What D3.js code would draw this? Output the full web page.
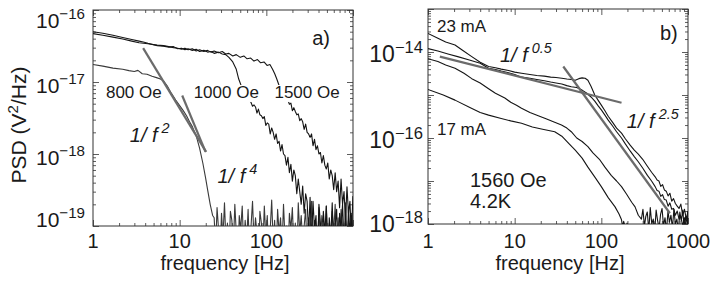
<!DOCTYPE html>
<html>
<head>
<meta charset="utf-8">
<script src="https://cdn.jsdelivr.net/npm/d3@7"></script>
<style>
  body { margin: 0; background: #fff; }
  svg { display: block; }
  text { font-family: "Liberation Sans", Arial, sans-serif; fill: #1a1a1a; }
</style>
</head>
<body>
<div id="chart"></div>
<script>
// ---------- panel a) : PSD vs field ----------
const curve800Head = [[1,1.75e-17],[1.3,1.66e-17],[1.7,1.56e-17],[2.2,1.5e-17],[2.6,1.44e-17],[3,1.4e-17],[3.3,1.45e-17],[3.7,1.3e-17],[4.2,1.28e-17],[4.8,1.2e-17],[5.4,1.15e-17],[6,1.1e-17],[6.5,1.04e-17],[7.2,8.8e-18],[8,7e-18],[9,5.6e-18],[10,4.7e-18],[11,4e-18],[12,3.4e-18],[13,2.8e-18],[14,2.4e-18],[15.5,1.8e-18],[17,1.2e-18],[18.5,7.5e-19],[20,4.5e-19],[21,3.2e-19],[22.5,2e-19],[24,1.4e-19]];
// noise floor of the 800 Oe trace (frequency bins, PSD in units of 1e-19)
const floorFreqA = [25,26,27,28.1,29.2,30.4,31.6,32.9,34.2,35.6,37,38.5,40,41.6,43.3,45,46.8,48.7,50.6,52.7,54.8,57,59.2,61.6,64.1,66.6,69.3,72.1,75,78,81,84.3,87.7,91.2,94.8,98.6,102.5,106.6,110.9,115.3,119.9,124.7,129.7,134.9,140.3,145.9,151.7,157.8,164.1,170.7,177.5,184.6,192,199.7,207.6,216,224.6,233.6,242.9,252.6,262.7,273.2,284.2,295.5,307.4,319.7,332.4,345.7,359.6,374,388.9,404.5,420.7,437.5,455,473.2,492.1,511.8,532.3,553.6,575.7,598.7,622.7,647.6,673.5,700.4,728.4,757.6,787.9,819.4,852.2,886.3,921.7,958.6,997];
const floor800 = [1.3,0.5,1.8,0.9,0.4,1.5,0.7,2.1,0.6,1.1, 0.4,1.6,1.2,0.5,2.0,0.8,0.3,1.4,0.9,1.9, 0.5,1.2,0.6,1.7,0.4,1.0,2.2,0.6,1.3,0.8, 0.3,1.6,1.1,0.5,1.9,0.7,1.4,0.4,0.9,2.3, 0.6,1.2,0.4,1.7,0.8,1.3,0.5,2.0,0.7,1.0, 0.4,1.5,0.9,1.8,0.5,1.1,0.3,2.1,0.8,1.4, 0.6,1.0,1.7,0.4,1.3,0.7,2.2,0.5,1.2,0.9, 0.4,1.8,0.6,1.4,1.0,0.3,1.9,0.7,1.1,0.5, 1.6,0.8,2.0,0.4,1.3,0.6,1.7,1.0,0.5,2.1, 0.7,1.2,0.4,1.5,0.9];

const curve1000 = [[1,4.7e-17],[1.3,4.45e-17],[1.7,4.2e-17],[2.2,3.95e-17],[2.8,3.7e-17],[3.4,3.5e-17],[4.3,3.4e-17],[5,3.3e-17],[5.5,3.2e-17],[6.5,3.15e-17],[7.5,3.05e-17],[8.5,3.1e-17],[9.5,2.9e-17],[10.5,2.95e-17],[11.5,2.8e-17],[12.5,2.9e-17],[14,2.75e-17],[15.5,2.85e-17],[17,2.65e-17],[19,2.75e-17],[21,2.6e-17],[23,2.65e-17],[25,2.5e-17],[28,2.6e-17],[31,2.45e-17],[34,2.4e-17],[37,2.2e-17],[41,1.9e-17],[45,1.5e-17],[48,1.1e-17],[52,8.5e-18],[57,6.8e-18],[62,5.8e-18],
  [66.6,5.2e-18],[69.3,4.6e-18],[72.1,4.8e-18],[75,4.5e-18],[78,3.7e-18],[81,4.2e-18],[84.3,3.5e-18],[87.7,3.4e-18],[91.2,3.1e-18],[94.8,3.3e-18],[98.6,2.5e-18],[102.5,2.7e-18],[106.6,2.6e-18],[110.9,1.9e-18],[115.3,2.3e-18],[119.9,2.0e-18],[124.7,1.6e-18],[129.7,1.9e-18],[134.9,1.4e-18],[140.3,1.5e-18],[145.9,1.1e-18],[151.7,1.35e-18],[157.8,1.0e-18],[164.1,9.5e-19],[170.7,7e-19],[177.5,9e-19],[184.6,5.5e-19],[192,7.2e-19],[199.7,4.2e-19],[207.6,6e-19],[216,5e-19],[224.6,2.8e-19],[233.6,4.5e-19],[242.9,3e-19],[252.6,2e-19],[262.7,3.6e-19],[273.2,1.5e-19],[284.2,2.8e-19],[295.5,2.2e-19],[307.4,0.8e-19],[319.7,2.5e-19],
  [332.4,0.6e-19],[345.7,2.2e-19],[359.6,0.9e-19],[374,1.4e-19],[388.9,0.4e-19],[404.5,2.0e-19],[420.7,1.1e-19],[437.5,0.5e-19],[455,1.6e-19],[473.2,0.8e-19],[492.1,1.9e-19],[511.8,0.3e-19],[532.3,1.3e-19],[553.6,0.7e-19],[575.7,2.1e-19],[598.7,0.5e-19],[622.7,1.0e-19],[647.6,1.7e-19],[673.5,0.4e-19],[700.4,1.5e-19],[728.4,0.9e-19],[757.6,2.0e-19],[787.9,0.6e-19],[819.4,1.2e-19],[852.2,0.3e-19],[886.3,1.8e-19],[921.7,0.8e-19],[958.6,1.4e-19],[997,0.5e-19]];

const curve1500 = [[1,5.0e-17],[1.3,4.75e-17],[1.7,4.45e-17],[2.2,4.15e-17],[2.8,3.9e-17],[3.4,3.7e-17],[3.8,3.6e-17],[4.3,3.45e-17],[5,3.3e-17],[5.5,3.25e-17],[6.5,3.2e-17],[7.5,3.1e-17],[8.5,3.0e-17],[9.5,2.95e-17],[10.5,2.85e-17],[11.5,2.95e-17],[12.5,2.8e-17],[14,2.9e-17],[15.5,2.7e-17],[17,2.8e-17],[19,2.65e-17],[21,2.75e-17],[23,2.6e-17],[25,2.7e-17],[28,2.55e-17],[31,2.65e-17],[34,2.45e-17],[37,2.5e-17],[41,2.3e-17],[45,2.4e-17],[50,2.2e-17],[55,2.3e-17],[60,2.1e-17],[66,2.15e-17],[72,1.95e-17],[79,2.05e-17],[86,1.85e-17],[94,1.9e-17],[102,1.7e-17],[110,1.75e-17],[118,1.5e-17],[125,1.3e-17],[132,1.1e-17],[140,9e-18],[150,7.5e-18],[160,6.5e-18],[170,6e-18],
  [177.5,5.6e-18],[184.6,4.9e-18],[192,5.1e-18],[199.7,4.0e-18],[207.6,4.4e-18],[216,3.9e-18],[224.6,3.5e-18],[233.6,3.6e-18],[242.9,2.9e-18],[252.6,3.1e-18],[262.7,2.8e-18],[273.2,2.2e-18],[284.2,2.6e-18],[295.5,2.0e-18],[307.4,1.9e-18],[319.7,1.7e-18],[332.4,1.9e-18],[345.7,1.3e-18],[359.6,1.6e-18],[374,1.15e-18],[388.9,1.3e-18],[404.5,1.0e-18],[420.7,1.05e-18],[437.5,7.5e-19],[455,9.5e-19],[473.2,7e-19],[492.1,6.2e-19],[511.8,7.5e-19],[532.3,4.5e-19],[553.6,6e-19],[575.7,5e-19],[598.7,3.2e-19],[622.7,5.5e-19],[647.6,3e-19],[673.5,4.2e-19],[700.4,1.8e-19],[728.4,4.5e-19],[757.6,2e-19],[787.9,3e-19],[819.4,1.2e-19],[852.2,3.5e-19],[886.3,1.5e-19],[921.7,2.2e-19],[958.6,0.7e-19],[997,2.6e-19]];

const fitA2 = [[3.79,2.95e-17],[20.2,1.07e-18]];
const fitA4 = [[10.7,6.5e-18],[19.9,1.07e-18]];

// ---------- panel b) : PSD vs bias current ----------
const curve23mA = [[1,2.7e-14],[1.3,2.1e-14],[1.6,1.7e-14],[2.05,1.45e-14],[2.5,1.1e-14],[3.2,7.8e-15],[4,5.8e-15],[5,4.6e-15],[6,4.3e-15],[7,4.0e-15],[8.5,3.7e-15],[10,3.4e-15],[12,3.2e-15],[15,3.0e-15],[18,2.85e-15],[22,2.75e-15],[26,2.6e-15],[30,2.55e-15],[35,2.45e-15],[40,2.35e-15],[45,2.3e-15],[50,2.2e-15],[55,2.4e-15],[60,2.5e-15],[65,2.45e-15],[70,2.2e-15],[76,1.6e-15],[84,1.0e-15],[92,7.5e-16],[100,5.8e-16],[110,4.3e-16],[120,3.2e-16],[135,2.3e-16],[150,1.7e-16],[171,1.3e-16],[190,9.5e-17],[215,6.8e-17],[240,5.2e-17],[267,4.2e-17],[300,3.2e-17],[340,2.2e-17],[380,1.6e-17],
  [418,1.25e-17],[440,1.05e-17],[462,1.0e-17],[485,7.5e-18],[509,8.2e-18],[534,6.2e-18],[561,5.8e-18],[589,4.5e-18],[618,5.2e-18],[649,3.4e-18],[681,3.9e-18],[715,3.0e-18],[751,2.6e-18],[788,2.3e-18],[827,2.9e-18],[868,1.6e-18],[911,2.2e-18],[956,1.3e-18],[1000,2.0e-18]];

const curve21mA = [[1,1.2e-14],[1.3,1.05e-14],[1.7,9e-15],[2.2,7.8e-15],[3,6.5e-15],[4,5.5e-15],[5,4.2e-15],[6,3.9e-15],[7,3.6e-15],[8.5,3.3e-15],[10,3.0e-15],[12,2.6e-15],[15,2.45e-15],[18,2.3e-15],[22,2.15e-15],[26,2.0e-15],[30,1.9e-15],[35,1.8e-15],[40,1.65e-15],[45,1.55e-15],[52,1.5e-15],[60,1.3e-15],[68,1.1e-15],[76,9e-16],[84,7.2e-16],[92,5.6e-16],[100,4.5e-16],[110,3.4e-16],[120,2.6e-16],[135,1.9e-16],[150,1.4e-16],[171,1.0e-16],[190,7.2e-17],[215,5.0e-17],[240,3.7e-17],[267,2.8e-17],[300,2.0e-17],[340,1.35e-17],[380,1.0e-17],
  [418,7.4e-18],[440,6.0e-18],[462,5.8e-18],[485,4.4e-18],[509,4.8e-18],[534,3.7e-18],[561,3.6e-18],[589,2.6e-18],[618,3.1e-18],[649,2.2e-18],[681,2.3e-18],[715,1.6e-18],[751,2.0e-18],[788,1.3e-18],[827,1.5e-18],[868,0.9e-18],[911,1.4e-18],[956,0.8e-18],[1000,1.2e-18]];

const curve19mA = [[1,7e-15],[1.3,6e-15],[1.6,5e-15],[2.05,4.2e-15],[2.6,3.2e-15],[3.2,2.4e-15],[4,1.9e-15],[5,1.4e-15],[6,1.1e-15],[7.7,8.5e-16],[9,6.8e-16],[10.5,5.8e-16],[12,4.9e-16],[15,3.9e-16],[18.7,3.3e-16],[23,2.8e-16],[28,2.4e-16],[34.7,2.0e-16],[40,1.7e-16],[45,1.4e-16],[52,1.0e-16],[60,8.3e-17],[70,6.3e-17],[80,4.5e-17],[95,3.2e-17],[110,2.1e-17],[130,1.35e-17],[150,1.0e-17],[171,7.4e-18],[195,5.0e-18],[224,3.2e-18],[245,2.5e-18],[267,1.6e-18],
  [290,1.3e-18],[302,2.2e-18],[314,0.9e-18],[326,1.5e-18],[339,1.9e-18],[353,0.7e-18],[367,2.4e-18],[382,1.0e-18],[397,1.3e-18],[413,0.7e-18],[429,2.1e-18],[446,1.2e-18],[464,0.8e-18],[483,1.7e-18],[502,2.3e-18],[522,0.9e-18],[543,1.4e-18],[565,0.7e-18],[588,2.0e-18],[611,1.1e-18],[636,1.6e-18],[661,0.8e-18],[688,2.2e-18],[715,1.0e-18],[744,1.3e-18],[774,0.7e-18],[805,1.9e-18],[837,1.2e-18],[870,2.1e-18],[905,0.8e-18],[941,1.5e-18],[979,1.0e-18],[1000,2.0e-18]];

const curve17mA = [[1,1.35e-15],[1.5,1.0e-15],[2.05,7.6e-16],[3,5.2e-16],[4,3.9e-16],[5,3.4e-16],[7,2.85e-16],[9,2.5e-16],[12,2.2e-16],[16,1.8e-16],[21,1.6e-16],[29,1.4e-16],[35,1.1e-16],[42,7.5e-17],[50,5.2e-17],[60,3.4e-17],[70,2.1e-17],[85,1.2e-17],[100,7.4e-18],[120,4.1e-18],[144,2.5e-18],[160,1.7e-18],
  [171,1.25e-18],[176,0.85e-18],[181,1.15e-18],[186,0.95e-18],[192,0.6e-18],[198,1.05e-18],[204,0.7e-18],[210,0.9e-18],[216,0.5e-18],[222,0.85e-18],[229,0.75e-18],[236,0.45e-18],[243,0.7e-18],[250,0.4e-18],[260,0.6e-18],[275,0.3e-18],[290,0.5e-18],[310,0.3e-18]];

const fitB05 = [[1.37,7.8e-15],[171,6.6e-16]];
const fitB25 = [[36.4,4.6e-15],[618,1.78e-18]];

const xTickLabelsA = [1, 10, 100];
const xTickLabelsB = [1, 10, 100, 1000];
const yExpA = [-19, -18, -17, -16];
const yExpB = [-18, -16, -14];

// ---------- drawing ----------
const W = 712, H = 284;
const svg = d3.select("#chart").append("svg").attr("width", W).attr("height", H);

const curve800 = curve800Head.concat(floorFreqA.map((f, i) => [f, floor800[i] * 1e-19]));

function logTicks(lo, hi) {
  const major = [], minor = [];
  for (let e = Math.floor(Math.log10(lo)); e <= Math.ceil(Math.log10(hi)); e++) {
    const p = Math.pow(10, e);
    if (p >= lo * 0.999 && p <= hi * 1.001) major.push(p);
    for (let k = 2; k < 10; k++) {
      const v = k * p;
      if (v > lo && v < hi) minor.push(v);
    }
  }
  return { major, minor };
}

function drawPanel(cfg) {
  const x = d3.scaleLog().domain(cfg.xDomain).range([cfg.left, cfg.right]);
  const y = d3.scaleLog().domain(cfg.yDomain).range([cfg.bottom, cfg.top]);
  const g = svg.append("g");

  const clipId = "clip-" + cfg.name;
  svg.append("clipPath").attr("id", clipId).append("rect")
    .attr("x", cfg.left).attr("y", cfg.top)
    .attr("width", cfg.right - cfg.left).attr("height", cfg.bottom - cfg.top);

  // inward ticks on all four sides
  const xt = logTicks(...cfg.xDomain), yt = logTicks(...cfg.yDomain);
  const sides = [
    [d3.axisBottom, x, xt, `translate(0,${cfg.bottom})`],
    [d3.axisTop, x, xt, `translate(0,${cfg.top})`],
    [d3.axisLeft, y, yt, `translate(${cfg.left},0)`],
    [d3.axisRight, y, yt, `translate(${cfg.right},0)`]
  ];
  sides.forEach(([axis, sc, t, tr]) => {
    [[t.major, 6], [t.minor, 3]].forEach(([vals, len]) => {
      const a = g.append("g").attr("transform", tr)
        .call(axis(sc).tickValues(vals).tickSize(-len).tickFormat(""));
      a.select(".domain").remove();
      a.selectAll("line").attr("stroke", "#333").attr("stroke-width", 0.8);
    });
  });

  g.append("rect")
    .attr("x", cfg.left).attr("y", cfg.top)
    .attr("width", cfg.right - cfg.left).attr("height", cfg.bottom - cfg.top)
    .attr("fill", "none").attr("stroke", "#333").attr("stroke-width", 1);

  // x tick labels
  g.selectAll(".xl").data(cfg.xLabels).join("text")
    .attr("x", d => x(d)).attr("y", 248)
    .attr("text-anchor", "middle").attr("font-size", 20)
    .text(d => d);

  // y tick labels (10^n)
  cfg.yExp.forEach(e => {
    const base = Math.min(Math.max(y(Math.pow(10, e)) + cfg.yLabDy, cfg.yLabMin), cfg.yLabMax);
    const t = g.append("text")
      .attr("x", cfg.left - cfg.yLabGap).attr("y", base)
      .attr("text-anchor", "end").attr("font-size", cfg.yLabSize);
    t.append("tspan").text("10");
    t.append("tspan").attr("font-size", cfg.yLabSize * 0.72).attr("dy", -9)
      .text("\u2212" + Math.abs(e));
  });

  g.append("text")
    .attr("x", (cfg.left + cfg.right) / 2 + 2).attr("y", 270)
    .attr("text-anchor", "middle").attr("font-size", 20)
    .text("frequency [Hz]");

  const line = d3.line().x(d => x(d[0])).y(d => y(d[1]));
  const plot = g.append("g").attr("clip-path", `url(#${clipId})`);

  cfg.curves.forEach(c => {
    plot.append("path").datum(c.data)
      .attr("d", line).attr("fill", "none")
      .attr("stroke", c.color).attr("stroke-width", 1.1)
      .attr("stroke-linejoin", "round");
  });
  cfg.fits.forEach(f => {
    plot.append("path").datum(f)
      .attr("d", line).attr("fill", "none")
      .attr("stroke", "#6b6b6b").attr("stroke-width", 2.2);
  });

  // annotations (anchored in data coordinates)
  cfg.notes.forEach(n => {
    const t = g.append("text")
      .attr("x", x(n.f)).attr("y", y(n.v))
      .attr("font-size", n.size).attr("text-anchor", n.anchor || "start");
    if (n.italic) t.attr("font-style", "italic");
    t.append("tspan").text(n.text);
    if (n.sup) t.append("tspan").attr("font-size", n.size * 0.72).attr("dx", 4).attr("dy", -9).text(n.sup);
    if (n.knock) {
      const b = t.node().getBBox();
      g.insert("rect", () => t.node())
        .attr("x", b.x - 1).attr("y", b.y + 2)
        .attr("width", b.width + 2).attr("height", b.height - 2)
        .attr("fill", "#fff");
    }
  });
  return { x, y };
}

drawPanel({
  name: "a", left: 93, right: 353, top: 10, bottom: 226,
  xDomain: [1, 1000], yDomain: [1e-19, 1e-16],
  xLabels: xTickLabelsA, yExp: yExpA,
  yLabDy: 11, yLabMin: 28, yLabMax: 227, yLabGap: 8, yLabSize: 21,
  curves: [
    { data: curve800, color: "#3a3a3a" },
    { data: curve1000, color: "#151515" },
    { data: curve1500, color: "#151515" }
  ],
  fits: [fitA2, fitA4],
  notes: [
    { text: "a)", f: 338, v: 3.27e-17, size: 20 },
    { text: "800 Oe", f: 1.41, v: 6.0e-18, size: 17 },
    { text: "1000 Oe", f: 14.5, v: 6.0e-18, size: 17, knock: true },
    { text: "1500 Oe", f: 124, v: 6.0e-18, size: 17, knock: true },
    { text: "1/ f", sup: "2", f: 2.66, v: 1.47e-18, size: 20, italic: true },
    { text: "1/ f", sup: "4", f: 27.3, v: 3.96e-19, size: 20, italic: true }
  ]
});

drawPanel({
  name: "b", left: 428, right: 688, top: 9, bottom: 224,
  xDomain: [1, 1000], yDomain: [1e-18, 1e-13],
  xLabels: xTickLabelsB, yExp: yExpB,
  yLabDy: 10, yLabMin: 20, yLabMax: 232, yLabGap: 5, yLabSize: 23,
  curves: [
    { data: curve17mA, color: "#151515" },
    { data: curve19mA, color: "#151515" },
    { data: curve21mA, color: "#151515" },
    { data: curve23mA, color: "#151515" }
  ],
  fits: [fitB05, fitB25],
  notes: [
    { text: "b)", f: 474, v: 1.9e-14, size: 20 },
    { text: "23 mA", f: 1.27, v: 2.9e-14, size: 17 },
    { text: "17 mA", f: 1.27, v: 1.17e-16, size: 17 },
    { text: "1560 Oe", f: 3.05, v: 7.2e-18, size: 20 },
    { text: "4.2K", f: 3.05, v: 2.3e-18, size: 20 },
    { text: "1/ f", sup: "0.5", f: 6.77, v: 5.9e-15, size: 20, italic: true },
    { text: "1/ f", sup: "2.5", f: 197, v: 1.7e-16, size: 20, italic: true }
  ]
});

// y axis title
const yt = svg.append("text")
  .attr("transform", "translate(26,125) rotate(-90)")
  .attr("text-anchor", "middle").attr("font-size", 21);
yt.append("tspan").text("PSD (V");
yt.append("tspan").attr("font-size", 15).attr("dy", -8).text("2");
yt.append("tspan").attr("dy", 8).text("/Hz)");
</script>
</body>
</html>
